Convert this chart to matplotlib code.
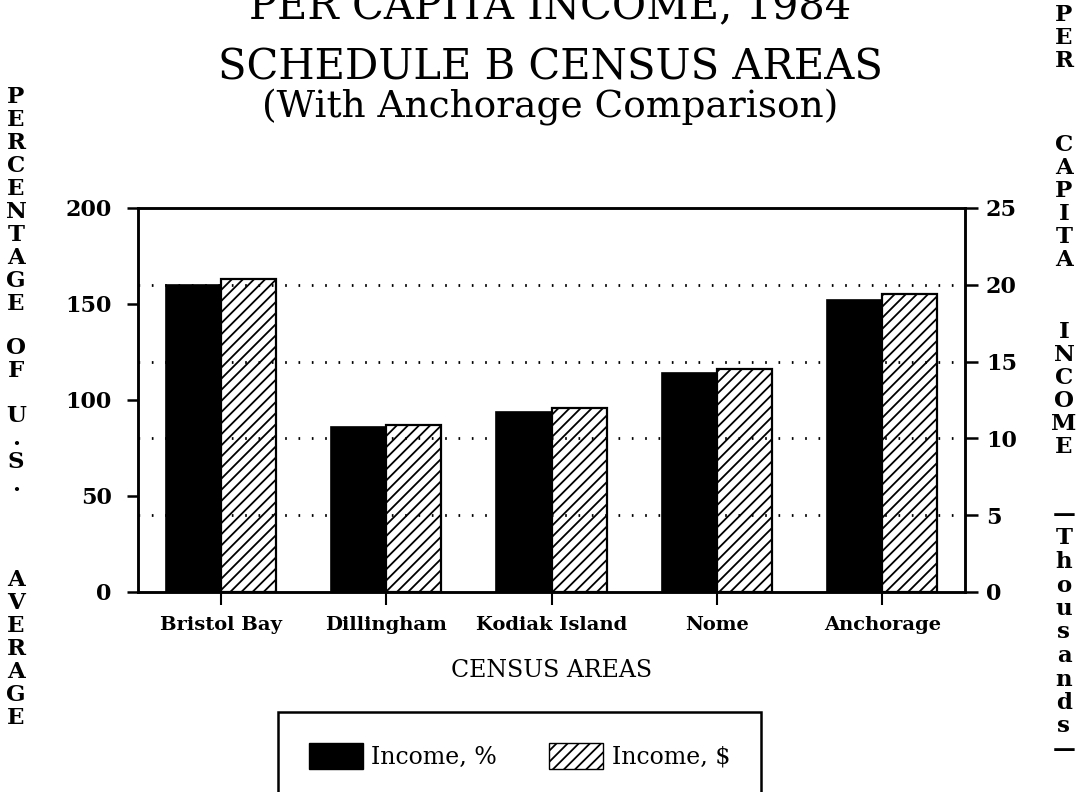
import numpy as np
import matplotlib.pyplot as plt
from matplotlib.patches import Patch

# Data
areas = ['Bristol Bay', 'Dillingham', 'Kodiak Island', 'Nome', 'Anchorage']
incomePct = [160, 86, 94, 114, 152]          # percentage of U.S. average (left axis)
incomeThou = [20.4, 10.9, 12.0, 14.5, 19.4]  # per capita income, $ thousands (right axis)
leftTicks = [0, 50, 100, 150, 200]
rightTicks = [0, 5, 10, 15, 20, 25]
gridTicks = [5, 10, 15, 20]

W, H = 1082, 792
serif = 'DejaVu Serif'
plt.rcParams['hatch.linewidth'] = 1.3

fig = plt.figure(figsize=(W / 100, H / 100), dpi=100)
ax = fig.add_axes([138 / W, 1 - 592 / H, (965 - 138) / W, (592 - 208) / H])
ax2 = ax.twinx()

x = np.arange(len(areas))
barWidth = 0.333
ax.bar(x - barWidth / 2, incomePct, barWidth, color='black', edgecolor='black', linewidth=1.2, zorder=2)
ax2.bar(x + barWidth / 2, incomeThou, barWidth, color='white', edgecolor='black', linewidth=1.6,
        hatch='///', zorder=2)

# Dotted reference lines follow the right-hand scale, drawn over the bars
for t in gridTicks:
    ax2.axhline(t, color='black', linewidth=2.0, linestyle=(0, (0.6, 4.2)), zorder=5)

ax.set_xlim(-0.5, len(areas) - 0.5)
ax.set_ylim(0, 200)
ax2.set_ylim(0, 25)

for a in (ax, ax2):
    for s in a.spines.values():
        s.set_linewidth(1.8)

ax.set_yticks(leftTicks)
ax.set_yticklabels([str(t) for t in leftTicks], fontsize=16, fontweight='bold', family=serif)
ax.tick_params(axis='y', direction='out', length=8, width=1.8, pad=11)
ax2.set_yticks(rightTicks)
ax2.set_yticklabels([str(t) for t in rightTicks], fontsize=16, fontweight='bold', family=serif)
ax2.tick_params(axis='y', direction='out', length=9, width=1.8, pad=6)

ax.set_xticks(x)
ax.set_xticklabels(areas, fontsize=14, fontweight='bold', family=serif)
ax.tick_params(axis='x', direction='out', length=9, width=1.5, pad=8)
ax.set_xlabel('CENSUS AREAS', fontsize=17, family=serif, labelpad=18)

# Titles (first line runs off the top edge, as in the original)
cx = 550 / W
fig.text(cx, 1 - 18 / H, 'PER CAPITA INCOME, 1984', ha='center', va='baseline', fontsize=30, family=serif)
fig.text(cx, 1 - 79 / H, 'SCHEDULE B CENSUS AREAS', ha='center', va='baseline', fontsize=30, family=serif)
fig.text(cx, 1 - 118 / H, '(With Anchorage Comparison)', ha='center', va='baseline', fontsize=27, family=serif)


# Stacked axis titles, one letter per row
def stack(xpix, ypix, word, step=23):
    for i, ch in enumerate(word):
        fig.text(xpix / W, 1 - (ypix + i * step) / H, ch, ha='center', va='center',
                 fontsize=16.5, fontweight='bold', family=serif)


stack(16, 97, 'PERCENTAGE')
stack(16, 348, 'OF')
stack(16, 416, 'U.S.')
stack(16, 580, 'AVERAGE')

stack(1064, 15, 'PER')
stack(1064, 145, 'CAPITA')
stack(1064, 332, 'INCOME')
stack(1064, 515, '—Thousands—', step=23.5)

handles = [Patch(facecolor='black', edgecolor='black', label='Income, %'),
           Patch(facecolor='white', edgecolor='black', hatch='///', label='Income, $')]
leg = fig.legend(handles=handles, loc='upper left', bbox_to_anchor=(278 / W, 1 - 712 / H),
                 ncol=2, frameon=True, fancybox=False, shadow=False, borderaxespad=0, framealpha=1,
                 prop={'family': serif, 'size': 17}, handlelength=2.3, handleheight=1.35,
                 handletextpad=0.35, columnspacing=2.2, borderpad=1.3)
leg.get_frame().set_edgecolor('black')
leg.get_frame().set_linewidth(1.8)

fig.savefig('out.png', dpi=100)
